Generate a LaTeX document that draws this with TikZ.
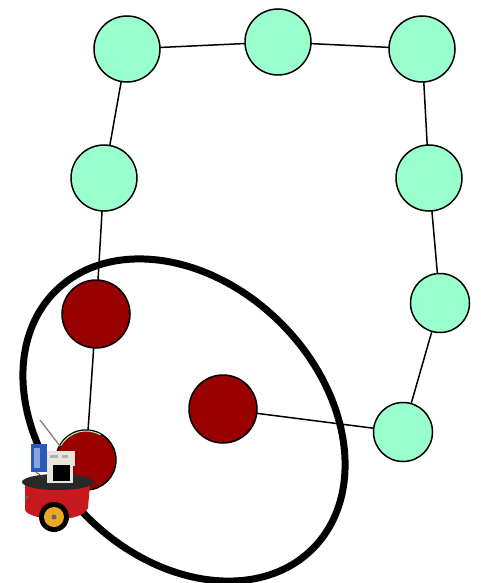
\documentclass[tikz,border=0pt]{standalone}
\usetikzlibrary{shapes.geometric}
\definecolor{mint}{RGB}{153,255,204}
\definecolor{dred}{RGB}{153,0,0}
\definecolor{rbred}{RGB}{200,25,30}
\definecolor{plate}{RGB}{40,40,40}
\definecolor{beige}{RGB}{232,230,218}
\definecolor{hub}{RGB}{230,170,35}
\definecolor{rblue}{RGB}{40,90,190}
\tikzset{
  gnode/.style={circle, draw=black, line width=1.5pt, fill=mint, inner sep=0pt, minimum size=66pt},
  gsmall/.style={gnode, minimum size=59pt},
  rnode/.style={circle, draw=black, line width=1.5pt, fill=dred, inner sep=0pt, minimum size=68pt},
  rsmall/.style={rnode, minimum size=60pt},
  edge/.style={line width=1.5pt, draw=black},
  region/.style={line width=7pt, draw=black}
}
\begin{document}
\begin{tikzpicture}[x=1pt,y=1pt]
\useasboundingbox (0,0) rectangle (481,-583);
% node positions
\coordinate (pA) at (127,-49);
\coordinate (pB) at (278,-42);
\coordinate (pC) at (422,-49);
\coordinate (pD) at (104,-178);
\coordinate (pE) at (429,-178);
\coordinate (pF) at (440,-303);
\coordinate (pG) at (403,-432);
\coordinate (pR1) at (96,-314);
\coordinate (pR2) at (223,-409);
\coordinate (pR3) at (86,-460);
% edges (drawn first, under nodes)
\draw[edge] (pA) -- (pB) -- (pC) -- (pE) -- (pF) -- (pG) -- (pR2);
\draw[edge] (pA) -- (pD) -- (pR1) -- (pR3);
% uncertainty ellipse
\draw[region, rotate around={-45:(184,-420)}] (184,-420) ellipse [x radius=182pt, y radius=137pt];
% nodes
\node[gnode] (A) at (pA) {};
\node[gnode] (B) at (pB) {};
\node[gnode] (C) at (pC) {};
\node[gnode] (D) at (pD) {};
\node[gnode] (E) at (pE) {};
\node[gsmall] (F) at (pF) {};
\node[gsmall] (G) at (pG) {};
\node[rnode] (R1) at (pR1) {};
\node[rnode] (R2) at (pR2) {};
\node[rsmall] (R3) at (pR3) {};
\draw[mint, line width=1pt] ([shift={(0,0)}]pR3) ++(150:29pt) arc[start angle=150, end angle=60, radius=29pt];
% robot
\draw[gray, line width=1.3pt] (40,-420) -- (60,-446);
\fill[rbred] (25,-484) -- (90,-484) -- (88,-508) .. controls (84,-516) and (72,-519) .. (57,-519) .. controls (40,-519) and (27,-515) .. (25,-510) -- cycle;
\fill[black!60] (26,-496) rectangle (28,-499);
\fill[plate] (58,-482) ellipse [x radius=36pt, y radius=8pt];
\fill[beige] (44,-451) rectangle (75,-466);
\fill[beige] (47,-465) rectangle (73,-483);
\fill[black] (53,-465) rectangle (70,-481);
\fill[black!30] (50,-455) rectangle (58,-458);
\fill[black!30] (62,-455) rectangle (68,-458);
\fill[rblue] (31,-444) rectangle (47,-472);
\fill[rblue!55] (34,-448) rectangle (40,-468);
\draw[black!70, line width=0.8pt] (36,-472) -- (44,-478);
\fill[black] (54,-517) circle [radius=15pt];
\fill[hub] (54,-517) circle [radius=10pt];
\fill[black!60] (54,-517) circle [radius=2.5pt];
\end{tikzpicture}
\end{document}
